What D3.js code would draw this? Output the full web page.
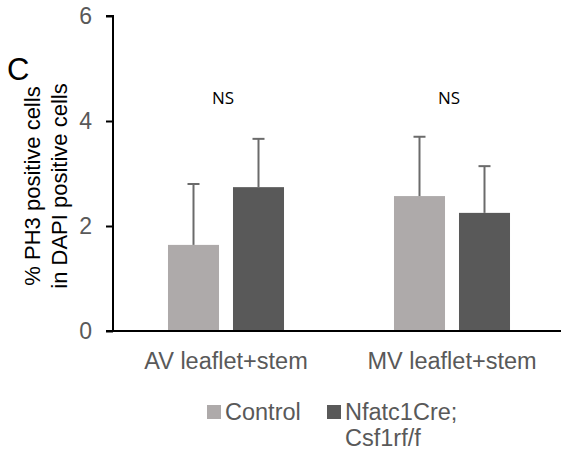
<!DOCTYPE html>
<html><head><meta charset="utf-8">
<script src="https://cdn.jsdelivr.net/npm/d3@7"></script>
<style>body{margin:0;background:#fff}svg{display:block}</style>
</head><body>
<script>
const categories = ["AV leaflet+stem", "MV leaflet+stem"];
const seriesNames = ["Control", "Nfatc1Cre;\nCsf1rf/f"];
const controlValues = [1.64, 2.57];
const controlErrors = [1.16, 1.13];
const mutantValues = [2.74, 2.25];
const mutantErrors = [0.92, 0.89];
const yTicks = [0, 2, 4, 6];
const sigLabels = ["NS", "NS"];

const W = 561, H = 451;
const svg = d3.select("body").append("svg").attr("width", W).attr("height", H);
const font = "Liberation Sans, Arial, sans-serif";

const y = d3.scaleLinear().domain([0, 6]).range([331, 16]);
const x0 = d3.scaleBand().domain(categories).range([113, 565]).paddingInner(0).paddingOuter(0);
const x1 = d3.scaleBand().domain(seriesNames).range([0, x0.bandwidth()]).paddingInner(0.215).paddingOuter(0.846);
const colors = d3.scaleOrdinal().domain(seriesNames).range(["#AEAAAA", "#595959"]);

const data = categories.map((c, i) => ({
  cat: c,
  vals: [
    {s: seriesNames[0], v: controlValues[i], e: controlErrors[i]},
    {s: seriesNames[1], v: mutantValues[i], e: mutantErrors[i]}
  ]
}));

const g = svg.selectAll("g.cat").data(data).enter().append("g")
  .attr("transform", d => `translate(${x0(d.cat)},0)`);
g.selectAll("rect").data(d => d.vals).enter().append("rect")
  .attr("x", d => x1(d.s)).attr("width", x1.bandwidth())
  .attr("y", d => y(d.v)).attr("height", d => y(0) - y(d.v))
  .attr("fill", d => colors(d.s));
// error bars
g.selectAll("line.err").data(d => d.vals).enter().append("line")
  .attr("x1", d => x1(d.s) + x1.bandwidth()/2).attr("x2", d => x1(d.s) + x1.bandwidth()/2)
  .attr("y1", d => y(d.v)).attr("y2", d => y(d.v + d.e))
  .attr("stroke", "#6b6b6b").attr("stroke-width", 2);
g.selectAll("line.cap").data(d => d.vals).enter().append("line")
  .attr("x1", d => x1(d.s) + x1.bandwidth()/2 - 6).attr("x2", d => x1(d.s) + x1.bandwidth()/2 + 6)
  .attr("y1", d => y(d.v + d.e)).attr("y2", d => y(d.v + d.e))
  .attr("stroke", "#6b6b6b").attr("stroke-width", 2);

// y axis
const yAxis = svg.append("g").attr("transform", "translate(113,0)")
  .call(d3.axisLeft(y).tickValues(yTicks).tickSize(7).tickPadding(14).tickFormat(d3.format("d")));
yAxis.select(".domain").attr("stroke", "#000").attr("stroke-width", 2).attr("d", `M-7,${y(6)}H0V${y(0)}`);
yAxis.selectAll(".tick line").attr("stroke", "#000").attr("stroke-width", 2);
yAxis.selectAll(".tick text").attr("font-family", font).attr("font-size", 23).attr("fill", "#595959");

// x axis
const xAxis = svg.append("g").attr("transform", `translate(0,${y(0)})`)
  .call(d3.axisBottom(x0).tickSize(0).tickPadding(21));
xAxis.select(".domain").attr("stroke", "#000").attr("stroke-width", 2).attr("d", `M106,0H561`);
xAxis.selectAll(".tick text").attr("font-family", font).attr("font-size", 23.5).attr("fill", "#595959");

// significance labels
svg.selectAll("text.sig").data(categories).enter().append("text")
  .attr("x", d => x0(d) + x0.bandwidth()/2 - 3).attr("y", 104)
  .attr("text-anchor", "middle").attr("font-family", "Open Sans, sans-serif").attr("font-size", 17)
  .attr("fill", "#000").text((d, i) => sigLabels[i]);

// y title
const yt = svg.append("text").attr("transform", "translate(0,186) rotate(-90)")
  .attr("text-anchor", "middle").attr("font-family", font).attr("font-size", 22).attr("fill", "#000");
yt.append("tspan").attr("x", 0).attr("y", 40).text("% PH3 positive cells");
yt.append("tspan").attr("x", 0).attr("y", 67).text("in DAPI positive cells");

// panel letter
svg.append("text").attr("x", 7).attr("y", 80).attr("font-family", font).attr("font-size", 31).attr("fill", "#000").text("C");

// legend
const legX = [207, 327];
seriesNames.forEach((s, i) => {
  svg.append("rect").attr("x", legX[i]).attr("y", 405).attr("width", 14).attr("height", 14).attr("fill", colors(s));
  const t = svg.append("text").attr("font-family", font).attr("font-size", 23.5).attr("fill", "#595959");
  s.split("\n").forEach((line, j) => {
    t.append("tspan").attr("x", legX[i] + 18).attr("y", 420 + j * 26).text(line);
  });
});
</script>
</body></html>
